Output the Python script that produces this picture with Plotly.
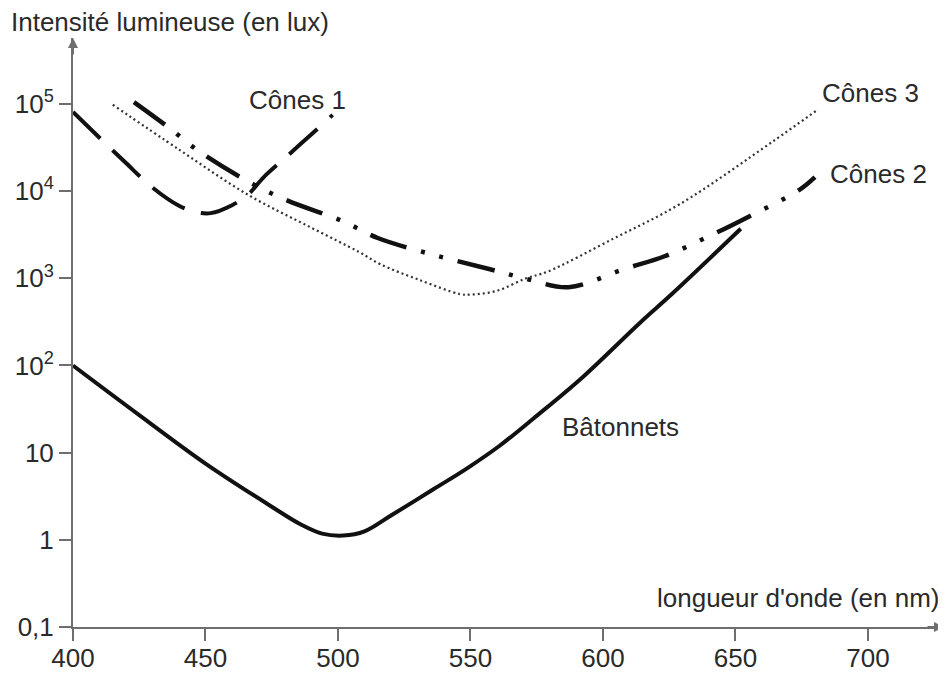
import plotly.graph_objects as go

# values (wavelength in nm, intensity in lux)
rods_nm = [400, 425, 450, 475, 486, 494, 502, 510, 520, 536, 549, 561, 574, 592, 614, 626, 652]
rods_lux = [100, 27, 7.5, 2.4, 1.5, 1.18, 1.12, 1.25, 1.9, 3.8, 6.7, 12, 25, 72, 310, 660, 3700]

cones1_nm = [400, 410, 420, 430, 440, 446, 452, 460, 466, 472, 480, 490, 498]
cones1_lux = [8.1e4, 4.1e4, 2.1e4, 1.1e4, 6800, 5800, 5600, 6900, 9100, 1.45e4, 2.4e4, 4.5e4, 7.5e4]

cones2_nm = [423, 436, 448, 468, 481, 502, 515, 536, 557, 572, 587, 608, 623, 642, 655, 674, 680]
cones2_lux = [1.05e5, 5.4e4, 2.8e4, 1.2e4, 7800, 4500, 2900, 1860, 1280, 970, 790, 1280, 1780, 3250, 5100, 1.03e4, 1.45e4]

cones3_nm = [415, 440, 466, 490, 508, 516, 531, 546, 550, 560, 571, 579, 604, 629, 664, 681]
cones3_lux = [9.8e4, 3.0e4, 9100, 3800, 2000, 1450, 950, 660, 650, 720, 1000, 1190, 2860, 7100, 3.7e4, 8.6e4]

x_ticks = [400, 450, 500, 550, 600, 650, 700]
y_ticks = [0.1, 1, 10, 100, 1000, 1e4, 1e5]
y_ticktext = ["0,1", "1", "10", "10<sup>2</sup>", "10<sup>3</sup>", "10<sup>4</sup>", "10<sup>5</sup>"]

FONT = "Liberation Sans, Arial, sans-serif"
TXT = "#2a2a2a"
AXIS = "#6e6e6e"
FS = 26

fig = go.Figure()

# Bâtonnets - solid
fig.add_trace(go.Scatter(x=rods_nm, y=rods_lux, mode='lines', line_shape='spline',
                         line=dict(color='#111111', width=4), hoverinfo='skip'))
# Cônes 1 - long dashes
fig.add_trace(go.Scatter(x=cones1_nm, y=cones1_lux, mode='lines', line_shape='spline',
                         line=dict(color='#111111', width=4, dash='38px,17px'), hoverinfo='skip'))
# Cônes 2 - dash dot dot
fig.add_trace(go.Scatter(x=cones2_nm, y=cones2_lux, mode='lines', line_shape='spline',
                         line=dict(color='#111111', width=4.5, dash='38px,15px,4px,15px,4px,15px'),
                         hoverinfo='skip'))
# Cônes 3 - dotted
fig.add_trace(go.Scatter(x=cones3_nm, y=cones3_lux, mode='lines', line_shape='spline',
                         line=dict(color='#333333', width=2.2, dash='2px,3px'), hoverinfo='skip'))

# the page body adds an 8px offset, so the figure is 8px smaller than the window
fig.update_layout(
    width=938, height=665, autosize=False,
    plot_bgcolor='white', paper_bgcolor='white',
    margin=dict(l=65, r=2, t=30, b=46),
    showlegend=False,
    font=dict(family=FONT, size=FS, color=TXT),
)

fig.update_xaxes(range=[400, 728.7], tickvals=x_ticks, ticks='outside', ticklen=12,
                 tickwidth=2, tickcolor=AXIS, showline=True, linecolor=AXIS, linewidth=2,
                 showgrid=False, zeroline=False, automargin=False, ticklabelstandoff=-5,
                 tickfont=dict(size=FS, color=TXT))
fig.update_yaxes(type='log', range=[-1, 5.757], tickvals=y_ticks, ticktext=y_ticktext,
                 ticks='outside', ticklen=12, tickwidth=2, tickcolor=AXIS,
                 showline=True, linecolor=AXIS, linewidth=2,
                 showgrid=False, zeroline=False, automargin=False,
                 tickfont=dict(size=FS, color=TXT))

# axis arrows
fig.add_annotation(xref='paper', yref='paper', x=0, y=1, ax=0, ay=18, text='',
                   showarrow=True, arrowhead=2, arrowsize=1, arrowwidth=2, arrowcolor=AXIS)
fig.add_annotation(xref='paper', yref='paper', x=1, y=0, ax=-18, ay=0, text='',
                   showarrow=True, arrowhead=2, arrowsize=1, arrowwidth=2, arrowcolor=AXIS)

# axis titles
fig.add_annotation(xref='paper', yref='paper', x=-0.073, y=1.028, xanchor='left', yanchor='middle',
                   text="Intensité lumineuse (en lux)", showarrow=False)
fig.add_annotation(xref='paper', yref='paper', x=0.996, y=0.049, xanchor='right', yanchor='middle',
                   text="longueur d'onde (en nm)", showarrow=False)

# curve labels
labels = [("Cônes 1", 465.7, 5.05), ("Cônes 3", 681.9, 5.13),
          ("Cônes 2", 684.9, 4.2), ("Bâtonnets", 583.8, 1.30)]
for txt, lx, ly in labels:
    fig.add_annotation(x=lx, y=ly, text=txt, showarrow=False, xanchor='left', yanchor='middle')

fig.write_html("out.html")
